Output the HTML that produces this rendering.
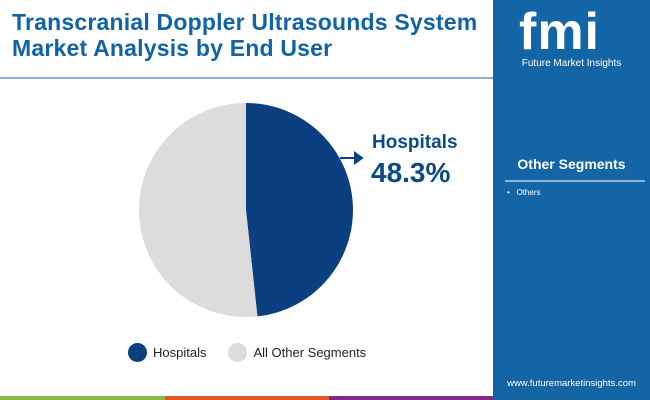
<!DOCTYPE html>
<html><head><meta charset="utf-8"><style>
body{margin:0;width:650px;height:400px;position:relative;overflow:hidden;background:#fff;font-family:"Liberation Sans",sans-serif}
.abs{position:absolute}
</style></head><body>
<div class="abs" style="left:12px;top:9px;width:480px;color:#0f63a6;font-weight:bold;font-size:23px;line-height:26px;letter-spacing:0.2px">Transcranial Doppler Ultrasounds System<br>Market Analysis by End User</div>
<div class="abs" style="left:0;top:77px;width:493px;height:2px;background:#8aaecb"></div>
<svg class="abs" style="left:0;top:0" width="493" height="400" id="chart"></svg>
<div class="abs" style="left:372px;top:132px;color:#0b4a85;font-weight:bold;font-size:19px">Hospitals</div>
<div class="abs" style="left:371px;top:157px;color:#0b4a85;font-weight:bold;font-size:28px">48.3%</div>
<div class="abs" style="left:128px;top:343px;font-size:13px;color:#222;display:flex;align-items:center">
<span style="width:19px;height:19px;border-radius:50%;background:#0b3f80;display:inline-block;margin-right:6px"></span><span>Hospitals</span>
<span style="width:19px;height:19px;border-radius:50%;background:#dcdcdc;display:inline-block;margin:0 6px 0 22px"></span><span>All Other Segments</span></div>
<div class="abs" style="left:0;top:396px;width:165px;height:4px;background:#8ab845"></div>
<div class="abs" style="left:165px;top:396px;width:164px;height:4px;background:#e05a25"></div>
<div class="abs" style="left:329px;top:396px;width:164px;height:4px;background:#7f2a86"></div>
<div class="abs" style="left:493px;top:0;width:157px;height:400px;background:#1465a6">
<div style="position:absolute;left:26px;top:6px;color:#fff;font-weight:bold;font-size:52px;letter-spacing:1px;line-height:52px">fmi</div>
<div style="position:absolute;left:0;width:157px;text-align:center;top:58px;color:#fff;font-size:10px">Future Market Insights</div>
<div style="position:absolute;left:0;width:157px;text-align:center;top:156px;color:#fff;font-weight:bold;font-size:14px">Other Segments</div>
<div style="position:absolute;left:12px;top:180px;width:140px;height:2px;background:#8db5d8"></div>
<div style="position:absolute;left:14px;top:188px;color:#fff;font-size:8px">•&nbsp;&nbsp;&nbsp;Others</div>
<div style="position:absolute;left:0;width:157px;text-align:center;top:378px;color:#fff;font-size:9.5px">www.futuremarketinsights.com</div>
</div>
<script>
const categories=["Hospitals","All Other Segments"];
const values=[48.3,51.7];
const colors=["#0b3f80","#dcdcdc"];
const svg=document.getElementById('chart');
const cx=246,cy=210,r=107;
let a0=0;const tot=values.reduce((a,b)=>a+b,0);
const NS="http://www.w3.org/2000/svg";
function pt(a){return [cx+r*Math.sin(a),cy-r*Math.cos(a)];}
values.forEach((v,i)=>{
 const a1=a0+v/tot*2*Math.PI;
 const p0=pt(a0),p1=pt(a1);
 const p=document.createElementNS(NS,'path');
 p.setAttribute('d',`M${cx},${cy}L${p0[0]},${p0[1]}A${r},${r} 0 ${a1-a0>Math.PI?1:0} 1 ${p1[0]},${p1[1]}Z`);
 p.setAttribute('fill',colors[i]);
 
 
 svg.appendChild(p);a0=a1;
});
const ln=document.createElementNS(NS,'path');
ln.setAttribute('d','M340,158L360,158M355,153L362,158L355,163Z');
ln.setAttribute('stroke','#0b3f80');ln.setAttribute('stroke-width','2');ln.setAttribute('fill','#0b3f80');


svg.appendChild(ln);
</script>
</body></html>
